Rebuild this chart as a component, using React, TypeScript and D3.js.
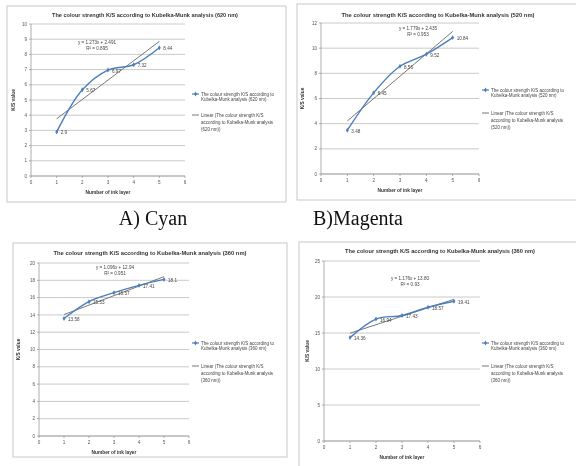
import React from 'react';
import * as d3 from 'd3';

// ink layers on the x axis
const layers = [1, 2, 3, 4, 5];
const xTicks = [0, 1, 2, 3, 4, 5, 6];

// K/S values
const cyanKS = [2.9, 5.67, 6.97, 7.32, 8.44];
const magentaKS = [3.48, 6.45, 8.56, 9.52, 10.84];
const yellowKS = [13.58, 15.53, 16.57, 17.41, 18.1];
const blackKS = [14.36, 16.94, 17.43, 18.57, 19.41];

const cyanLabels = ['2.9', '5.67', '6.97', '7.32', '8.44'];
const magentaLabels = ['3.48', '6.45', '8.56', '9.52', '10.84'];
const yellowLabels = ['13.58', '15.53', '16.57', '17.41', '18.1'];
const blackLabels = ['14.36', '16.94', '17.43', '18.57', '19.41'];

// linear trendlines: slope, intercept, R²
const trendSlopes = [1.273, 1.779, 1.096, 1.176];
const trendIntercepts = [2.491, 2.435, 12.94, 13.8];
const trendEq = ['y = 1.273x + 2.491', 'y = 1.779x + 2.435', 'y = 1.096x + 12.94', 'y = 1.176x + 13.80'];
const trendR2 = ['R² = 0.895', 'R² = 0.953', 'R² = 0.951', 'R² = 0.93'];

const wavelengths = ['620 nm', '520 nm', '360 nm', '360 nm'];
const yMaxes = [10, 12, 20, 25];
const ySteps = [1, 2, 2, 5];
const captions = ['A) Cyan', 'B)Magenta'];

const BLUE = '#4a7ebb';
const TREND = '#6a6a6a';
const FONT = '"Liberation Sans", Arial, sans-serif';

const panels = [
  { values: cyanKS, labels: cyanLabels, box: [7, 6, 279, 196], px: [31, 185], py: [176, 24], titleX: 145, titleY: 17, titleLen: 186, eqX: 97, eqY: 44, legX: 192, legY1: 94, legY2: 115, yTitleX: 15 },
  { values: magentaKS, labels: magentaLabels, box: [297, 4, 280, 196], px: [321, 479], py: [174, 23], titleX: 438, titleY: 17, titleLen: 193, eqX: 418, eqY: 30, legX: 482, legY1: 90, legY2: 113, yTitleX: 304 },
  { values: yellowKS, labels: yellowLabels, box: [13, 243, 274, 214], px: [39, 189], py: [436, 263], titleX: 150, titleY: 255, titleLen: 193, eqX: 115, eqY: 269, legX: 192, legY1: 343, legY2: 366, yTitleX: 20 },
  { values: blackKS, labels: blackLabels, box: [299, 242, 280, 230], px: [324, 480], py: [441, 261], titleX: 440, titleY: 253, titleLen: 190, eqX: 410, eqY: 280, legX: 482, legY1: 343, legY2: 366, yTitleX: 309 },
];

function Panel({ p, i }: { p: any; i: number }) {
  const x = d3.scaleLinear().domain([0, 6]).range(p.px);
  const y = d3.scaleLinear().domain([0, yMaxes[i]]).range(p.py);
  const yTicks = d3.range(0, yMaxes[i] + 0.001, ySteps[i]);
  const pts: [number, number][] = layers.map((l, k) => [l, p.values[k]]);
  const line = d3
    .line<[number, number]>()
    .x(d => x(d[0]))
    .y(d => y(d[1]))
    .curve(d3.curveCatmullRom.alpha(0.5));
  const diamond = d3.symbol(d3.symbolDiamond, 7)()!;
  const trend = (v: number) => trendSlopes[i] * v + trendIntercepts[i];
  const nm = wavelengths[i];
  const [bx, by, bw, bh] = p.box;
  const lx = p.legX;
  return (
    <g>
      <rect x={bx} y={by} width={bw} height={bh} fill="#fff" stroke="#c8c8c8" strokeWidth={1} />
      <text x={p.titleX} y={p.titleY} textAnchor="middle" fontSize={5.4} fontWeight="bold" fill="#333" textLength={p.titleLen} lengthAdjust="spacingAndGlyphs">
        The colour strength K/S according to Kubelka-Munk analysis ({nm})
      </text>
      {yTicks.map(t => (
        <g key={t}>
          <line x1={p.px[0]} x2={p.px[1]} y1={y(t)} y2={y(t)} stroke="#bdbdbd" strokeWidth={0.8} />
          <line x1={p.px[0] - 2} x2={p.px[0]} y1={y(t)} y2={y(t)} stroke="#9a9a9a" strokeWidth={0.8} />
          <text x={p.px[0] - 4} y={y(t) + 1.6} textAnchor="end" fontSize={4.6} fill="#555">{t}</text>
        </g>
      ))}
      <line x1={p.px[0]} x2={p.px[0]} y1={p.py[0]} y2={p.py[1]} stroke="#9a9a9a" strokeWidth={0.8} />
      <line x1={p.px[0]} x2={p.px[1]} y1={p.py[0]} y2={p.py[0]} stroke="#9a9a9a" strokeWidth={0.8} />
      {xTicks.map(t => (
        <g key={t}>
          <line x1={x(t)} x2={x(t)} y1={p.py[0]} y2={p.py[0] + 2} stroke="#9a9a9a" strokeWidth={0.8} />
          <text x={x(t)} y={p.py[0] + 8} textAnchor="middle" fontSize={4.6} fill="#555">{t}</text>
        </g>
      ))}
      <text x={(p.px[0] + p.px[1]) / 2} y={p.py[0] + 18} textAnchor="middle" fontSize={4.8} fontWeight="bold" fill="#333">Number of ink layer</text>
      <text transform={`translate(${p.yTitleX},${(p.py[0] + p.py[1]) / 2}) rotate(-90)`} textAnchor="middle" fontSize={4.8} fontWeight="bold" fill="#333">K/S value</text>
      <line x1={x(1)} y1={y(trend(1))} x2={x(5)} y2={y(trend(5))} stroke={TREND} strokeWidth={0.9} />
      <path d={line(pts)!} fill="none" stroke={BLUE} strokeWidth={1.4} />
      {pts.map((d, k) => (
        <g key={k}>
          <path d={diamond} transform={`translate(${x(d[0])},${y(d[1])})`} fill={BLUE} />
          <text x={x(d[0]) + 4} y={y(d[1]) + 2.5} fontSize={4.6} fill="#444">{p.labels[k]}</text>
        </g>
      ))}
      <text x={p.eqX} y={p.eqY} textAnchor="middle" fontSize={4.6} fill="#444">{trendEq[i]}</text>
      <text x={p.eqX} y={p.eqY + 6} textAnchor="middle" fontSize={4.6} fill="#444">{trendR2[i]}</text>
      <line x1={lx} x2={lx + 7} y1={p.legY1} y2={p.legY1} stroke={BLUE} strokeWidth={1.2} />
      <path d={diamond} transform={`translate(${lx + 3.5},${p.legY1})`} fill={BLUE} />
      <text x={lx + 9} y={p.legY1 + 1.6} fontSize={4.5} fill="#444">The colour strength K/S according to</text>
      <text x={lx + 9} y={p.legY1 + 7.2} fontSize={4.5} fill="#444">Kubelka-Munk analysis ({nm})</text>
      <line x1={lx} x2={lx + 7} y1={p.legY2} y2={p.legY2} stroke={TREND} strokeWidth={0.9} />
      <text x={lx + 9} y={p.legY2 + 1.6} fontSize={4.5} fill="#444">Linear (The colour strength K/S</text>
      <text x={lx + 9} y={p.legY2 + 8.6} fontSize={4.5} fill="#444">according to Kubelka-Munk analysis</text>
      <text x={lx + 9} y={p.legY2 + 15.6} fontSize={4.5} fill="#444">({nm}))</text>
    </g>
  );
}

export default function App() {
  return (
    <svg width={576} height={466} style={{ position: 'absolute', left: 0, top: 0, fontFamily: FONT, background: '#fff' }}>
      <defs>
        <filter id="soft">
          <feGaussianBlur stdDeviation={0.35} />
        </filter>
      </defs>
      <g filter="url(#soft)">
        {panels.map((p, i) => (
          <Panel key={i} p={p} i={i} />
        ))}
      </g>
      <text x={153} y={225} textAnchor="middle" fontSize={20} fontFamily='"Liberation Serif", "Times New Roman", serif' fill="#111">{captions[0]}</text>
      <text x={358} y={225} textAnchor="middle" fontSize={20} fontFamily='"Liberation Serif", "Times New Roman", serif' fill="#111">{captions[1]}</text>
    </svg>
  );
}
